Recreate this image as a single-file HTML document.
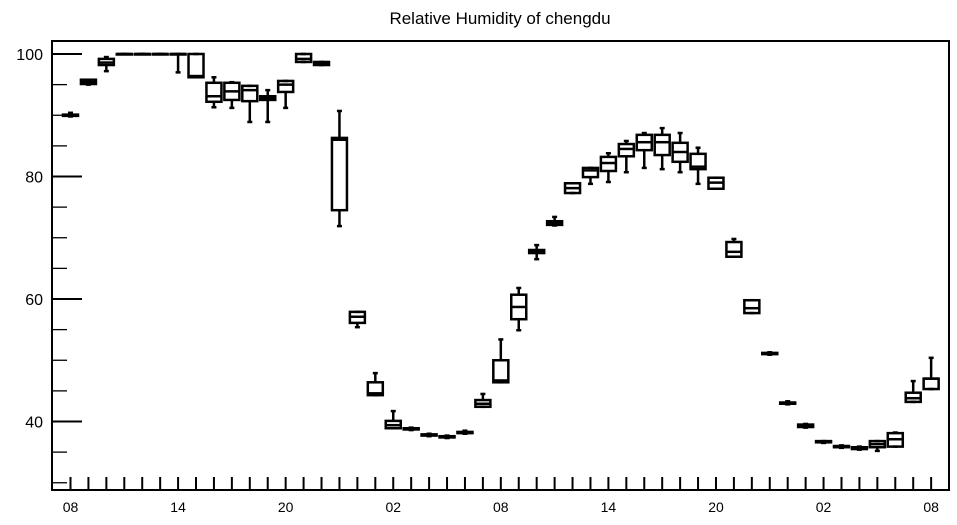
<!DOCTYPE html>
<html><head><meta charset="utf-8"><style>
body{margin:0;background:#fff;font-family:"Liberation Sans",Arial,sans-serif}
svg text{font-family:"Liberation Sans",Arial,sans-serif}
</style></head><body>
<svg id="chart" width="957" height="520" viewBox="0 0 957 520">
<text x="500" y="24" font-size="17" text-anchor="middle">Relative Humidity of chengdu</text>
<rect x="52" y="41" width="897" height="449" fill="none" stroke="#000" stroke-width="2"/>
<g id="yaxis"></g>
<g id="xaxis"></g>
<g id="boxes"></g>
</svg>
<script>
const mins=[89.8,95.0,97.2,100,100,100,97.0,96.2,91.3,91.2,88.9,88.9,91.2,98.7,98.2,71.9,55.4,44.3,38.9,38.6,37.6,37.3,38.0,42.4,46.4,54.9,66.5,72.0,77.3,78.8,79.1,80.7,81.4,81.2,80.7,78.8,78.0,66.9,57.7,50.9,42.8,39.0,36.5,35.7,35.4,35.2,35.9,43.2,45.3];
const q1s=[89.9,95.1,98.2,100,100,100,100,96.2,92.2,92.5,92.3,92.5,93.8,98.7,98.2,74.5,56.1,44.3,38.9,38.7,37.7,37.4,38.1,42.4,46.4,56.7,67.5,72.1,77.3,79.9,80.9,83.3,84.3,83.5,82.4,81.2,78.0,66.9,57.7,51.0,42.9,39.1,36.6,35.8,35.5,35.8,35.9,43.2,45.3];
const meds=[90.0,95.4,98.6,100,100,100,100,96.4,93.1,93.9,94.1,92.8,95.0,99.2,98.5,86.0,57.1,44.6,39.4,38.8,37.8,37.5,38.2,42.9,46.7,58.7,67.8,72.4,78.1,81.0,82.2,84.5,85.6,85.6,84.0,81.6,79.0,67.7,58.5,51.1,43.0,39.3,36.7,35.9,35.7,36.3,37.1,43.8,47.0];
const q3s=[90.1,95.8,99.2,100,100,100,100,100,95.3,95.3,94.8,93.1,95.6,100,98.7,86.3,57.9,46.4,40.1,38.9,37.9,37.6,38.3,43.5,50.0,60.7,68.0,72.7,78.9,81.4,83.2,85.3,86.8,86.8,85.5,83.7,79.8,69.3,59.8,51.2,43.1,39.5,36.8,36.0,35.8,36.8,38.1,44.7,47.0];
const maxs=[90.4,95.8,99.5,100,100,100,100,100,96.2,95.4,94.8,94.1,95.6,100,98.7,90.7,57.9,47.9,41.7,39.0,38.0,37.7,38.5,44.5,53.4,61.8,68.8,73.4,78.9,81.4,83.8,85.8,87.1,87.9,87.1,84.7,79.8,69.8,59.8,51.3,43.3,39.6,36.8,36.1,35.9,36.8,38.2,46.6,50.4];
const yTicks=[40,60,80,100];
const xTickLabels=["08","14","20","02","08","14","20","02","08"];
const NS="http://www.w3.org/2000/svg";
const x0=70.5,dx=17.93;
function X(i){return x0+dx*i;}
function Y(v){return 54+(100-v)*6.125;}
function mk(tag,attrs,parent){const e=document.createElementNS(NS,tag);for(const k in attrs)e.setAttribute(k,attrs[k]);parent.appendChild(e);return e;}
const ya=document.getElementById('yaxis'),xa=document.getElementById('xaxis'),bx=document.getElementById('boxes');
for(let v=30;v<=100;v+=5){
  const major=v%20===0;
  const t=mk('line',{x1:52,x2:major?82:67,y1:Y(v),y2:Y(v),stroke:'#000','stroke-width':major?2:1.3},ya);
  
  
}
yTicks.forEach(v=>{
  const t=mk('text',{x:43,y:Y(v)+6,'font-size':16,'text-anchor':'end'},ya);
  t.textContent=v;
  
  
});
for(let i=0;i<mins.length;i++){
  const t=mk('line',{x1:X(i),x2:X(i),y1:477,y2:490,stroke:'#000','stroke-width':2},xa);
  
  
}
xTickLabels.forEach((s,k)=>{
  const t=mk('text',{x:X(k*6),y:512,'font-size':14,'text-anchor':'middle'},xa);
  t.textContent=s;
  
  
});
const hw=7.5,cw=2.5;
for(let i=0;i<mins.length;i++){
  const g=mk('g',{stroke:'#000','stroke-width':2.5,fill:'none'},bx);
  
  
  const x=X(i);
  mk('line',{x1:x,x2:x,y1:Y(maxs[i]),y2:Y(q3s[i])},g);
  mk('line',{x1:x,x2:x,y1:Y(q1s[i]),y2:Y(mins[i])},g);
  mk('line',{x1:x-cw,x2:x+cw,y1:Y(maxs[i]),y2:Y(maxs[i])},g);
  mk('line',{x1:x-cw,x2:x+cw,y1:Y(mins[i]),y2:Y(mins[i])},g);
  mk('rect',{x:x-hw,y:Y(q3s[i]),width:2*hw,height:Math.max(0.5,Y(q1s[i])-Y(q3s[i]))},g);
  mk('line',{x1:x-hw,x2:x+hw,y1:Y(meds[i]),y2:Y(meds[i])},g);
}
</script>
</body></html>
